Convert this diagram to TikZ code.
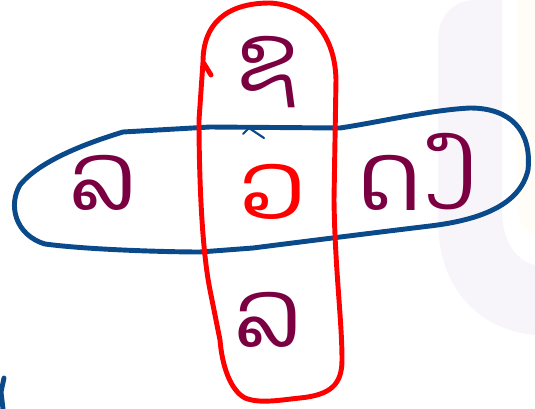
\documentclass[tikz,border=0pt]{standalone}
\usepackage{fontspec}
\newfontfamily\laofont[Script=Lao]{Dhyana}
\definecolor{bandblue}{HTML}{0A4A8A}
\definecolor{inkred}{HTML}{FF0000}
\definecolor{inkplum}{HTML}{7B0042}
\definecolor{markgrey}{HTML}{F7F5FA}
\definecolor{markcream}{HTML}{FFFDF6}
\begin{document}
\begin{tikzpicture}[x=0.02cm,y=-0.02cm,line cap=round,line join=round,
  every node/.style={font=\laofont\fontsize{54}{60}\selectfont, text=inkplum, inner sep=0pt}]
\useasboundingbox (0,0) rectangle (535,409);
\fill[markgrey] (475,0) -- (535,0) -- (535,335) .. controls (480,330) and (438,290) .. (438,220) -- (438,40) .. controls (438,15) and (455,0) .. (475,0);
\fill[white] (502,0) -- (502,210) .. controls (502,245) and (520,262) .. (535,265) -- (535,0) -- cycle;
\fill[markcream] (517,0) -- (517,200) .. controls (517,220) and (525,232) .. (535,234) -- (535,0) -- cycle;
\draw[bandblue, line width=2.8pt] (210,127) -- (123,132) .. controls (90,142) and (40,160) .. (20,185) .. controls (8,205) and (15,235) .. (45,244) .. controls (90,250) and (170,252) .. (200,252) -- (253,248) .. controls (300,242) and (380,232) .. (430,226) .. controls (480,220) and (520,205) .. (528,170) .. controls (532,130) and (510,108) .. (470,108) .. controls (430,110) and (380,122) .. (340,128) -- cycle;
\draw[bandblue, line width=1.2pt] (243,134) -- (249,128) -- (264,138);
\draw[bandblue, line width=2.8pt] (4,378) -- (1,392) -- (3,409);
\draw[inkred, line width=2.8pt] (203,62) .. controls (203,25) and (225,3) .. (270,3) .. controls (305,5) and (335,30) .. (336,80) -- (334,200) .. controls (335,270) and (342,320) .. (342,360) .. controls (342,385) and (330,395) .. (300,398) .. controls (280,400) and (260,404) .. (245,398) .. controls (230,390) and (222,365) .. (220,340) -- (210,290) .. controls (200,240) and (199,150) .. (199,120) -- (203,62) -- (211,75);
\node (top) at (268,72) {ຊ};
\node (left) at (103,183) {ລ};
\node[text=inkred] (middle) at (272,192) {ວ};
\node (right) at (390,183) {ດ};
\node (farright) at (450,172) {ງ};
\node (bottom) at (268,320) {ລ};
\end{tikzpicture}
\end{document}
